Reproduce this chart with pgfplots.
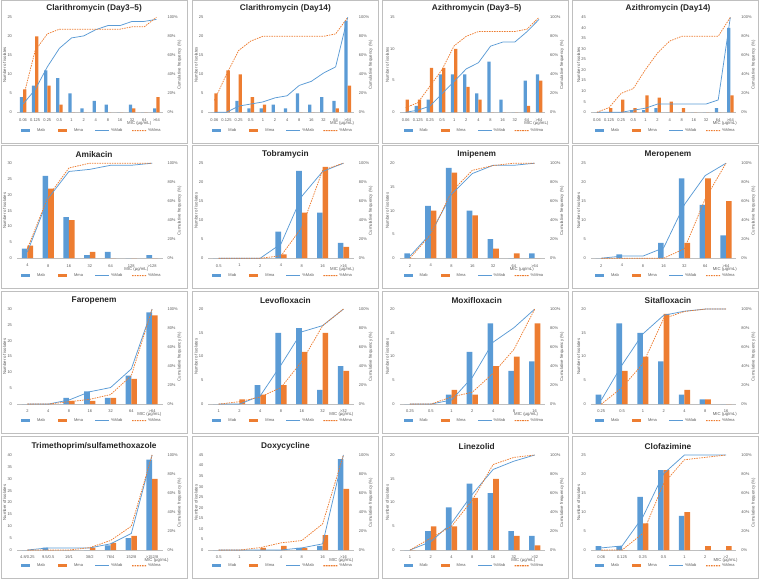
\documentclass[border=0pt]{standalone}
\usepackage{pgfplots}
\pgfplotsset{compat=1.18}
\usepackage{pgfplotstable}
\usepackage{fontspec}
\setmainfont{Liberation Sans}
\definecolor{blueC}{RGB}{91,155,213}
\definecolor{orangeC}{RGB}{237,125,49}
\definecolor{txt}{RGB}{89,89,89}

% x = category index; mab, mma = number of isolates; cmab, cmma = cumulative frequency (%)
\pgfplotstableread{
x mab mma cmab cmma
0 4 6 8.7 15.0
1 7 20 23.9 65.0
2 11 7 47.8 82.5
3 9 2 67.4 87.5
4 5 0 78.3 87.5
5 1 0 80.4 87.5
6 3 0 87.0 87.5
7 2 0 91.3 87.5
8 0 0 91.3 87.5
9 2 1 95.7 90.0
10 0 0 95.7 90.0
11 1 4 97.8 100
}\tClaA
\pgfplotstableread{
x mab mma cmab cmma
0 0 5 0 12.5
1 0 11 0 40.0
2 3 10 6.5 65.0
3 1 4 8.7 75.0
4 1 2 10.9 80.0
5 2 0 15.2 80.0
6 1 0 17.4 80.0
7 5 0 28.3 80.0
8 2 0 32.6 80.0
9 4 0 41.3 80.0
10 3 1 47.8 82.5
11 24 7 100 100
}\tClaB
\pgfplotstableread{
x mab mma cmab cmma
0 0 2 0 5.0
1 1 2 2.2 10.0
2 2 7 6.5 27.5
3 6 7 19.6 45.0
4 6 10 32.6 70.0
5 6 4 45.7 80.0
6 3 2 52.2 85.0
7 8 0 69.6 85.0
8 2 0 73.9 85.0
9 0 0 73.9 85.0
10 5 1 84.8 87.5
11 6 5 97.8 100
}\tAziA
\pgfplotstableread{
x mab mma cmab cmma
0 0 0 0 0
1 0 2 0 5.0
2 0 6 0 20.0
3 1 2 2.2 25.0
4 1 8 4.3 45.0
5 2 7 8.7 62.5
6 0 5 8.7 75.0
7 0 2 8.7 80.0
8 0 0 8.7 80.0
9 0 0 8.7 80.0
10 2 0 13.0 80.0
11 40 8 100 100
}\tAziB
\pgfplotstableread{
x mab mma cmab cmma
0 3 4 6.5 10.0
1 26 22 63.0 65.0
2 13 12 91.3 95.0
3 1 2 93.5 100
4 2 0 97.8 100
5 0 0 97.8 100
6 1 0 100 100
}\tAmi
\pgfplotstableread{
x mab mma cmab cmma
0 0 0 0 0
1 0 0 0 0
2 0 0 0 0
3 7 1 15.2 2.5
4 23 12 65.2 32.5
5 12 24 91.3 92.5
6 4 3 100 100
}\tTob
\pgfplotstableread{
x mab mma cmab cmma
0 1 0 2.2 0
1 11 10 26.1 25.0
2 19 18 67.4 70.0
3 10 9 89.1 92.5
4 4 2 97.8 97.5
5 0 1 97.8 100
6 1 0 100 100
}\tImi
\pgfplotstableread{
x mab mma cmab cmma
0 0 0 0 0
1 1 0 2.2 0
2 0 0 2.2 0
3 4 0 10.9 0
4 21 4 56.5 10.0
5 14 21 87.0 62.5
6 6 15 100 100
}\tMer
\pgfplotstableread{
x mab mma cmab cmma
0 0 0 0 0
1 0 0 0 0
2 2 1 4.3 2.5
3 4 1 13.0 5.0
4 2 2 17.4 10.0
5 9 8 37.0 30.0
6 29 28 100 100
}\tFar
\pgfplotstableread{
x mab mma cmab cmma
0 0 0 0 0
1 0 1 0 2.5
2 4 2 8.7 7.5
3 15 4 41.3 17.5
4 16 11 76.1 45.0
5 3 15 82.6 82.5
6 8 7 100 100
}\tLev
\pgfplotstableread{
x mab mma cmab cmma
0 0 0 0 0
1 0 0 0 0
2 2 3 4.3 7.5
3 11 2 28.3 12.5
4 17 8 65.2 32.5
5 7 10 80.4 57.5
6 9 17 100 100
}\tMox
\pgfplotstableread{
x mab mma cmab cmma
0 2 0 4.3 0
1 17 7 41.3 17.5
2 15 10 73.9 42.5
3 9 19 93.5 90.0
4 2 3 97.8 97.5
5 1 1 100 100
6 0 0 100 100
}\tSit
\pgfplotstableread{
x mab mma cmab cmma
0 0 0 0 0
1 1 0 2.2 0
2 0 0 2.2 0
3 0 1 2.2 2.5
4 2 3 6.5 10.0
5 5 6 17.4 25.0
6 38 30 100 100
}\tTmp
\pgfplotstableread{
x mab mma cmab cmma
0 0 0 0 0
1 0 0 0 0
2 0 1 0 2.5
3 0 2 0 7.5
4 1 1 2.2 10.0
5 2 7 6.5 27.5
6 43 29 100 100
}\tDox
\pgfplotstableread{
x mab mma cmab cmma
0 0 0 0 0
1 4 5 8.7 12.5
2 9 5 28.3 25.0
3 14 11 58.7 52.5
4 12 15 84.8 90.0
5 4 3 93.5 97.5
6 3 1 100 100
}\tLin
\pgfplotstableread{
x mab mma cmab cmma
0 1 0 2.2 0
1 1 0 4.3 0
2 14 7 34.8 17.5
3 21 21 80.4 70.0
4 9 10 100 95.0
5 0 1 100 97.5
6 0 1 100 100
}\tClo

\pgfplotsset{
  common/.style={scale only axis, width=145.5pt, height=95pt, anchor=south west,
    xmin=-0.5, ymin=0, major tick length=0pt, clip=false,
    cycle list={{blueC},{orangeC},{blueC},{orangeC}},
    tick label style={font=\fontsize{4}{4.5}\selectfont, text=txt},
    /pgf/number format/assume math mode=true,
    label style={font=\fontsize{4.3}{5}\selectfont, text=txt},
  },
  leftax/.style={common, axis x line*=bottom, axis y line*=left,
    y axis line style={draw=none}, x axis line style={draw=black!25, line width=0.5pt},
    ytick distance=5,
    ylabel={Number of isolates},
    ylabel style={at={(axis description cs:-0.0845,0.5)}, anchor=center},
    xlabel={MIC (μg/mL)},
    xticklabel style={yshift=-2.5pt}, yticklabel style={xshift=-1.5pt},
    title style={font=\bfseries\fontsize{8.3}{9.6}\selectfont, text=black!85,
      at={(axis description cs:0.53,1)}, anchor=center, yshift=2.5pt},
    legend columns=4,
    legend style={draw=none, fill=none, inner sep=0pt, column sep=0pt,
      at={(axis description cs:0.027,0)}, anchor=west,
      font=\fontsize{4}{4.5}\selectfont},
  },
  rightax/.style={common, axis x line=none, axis y line*=right,
    y axis line style={draw=none}, ymax=100, ytick={0,20,...,100},
    yticklabel={\pgfmathprintnumber{\tick}\%}, yticklabel style={xshift=1.5pt},
    ylabel={Cumulative frequency (\%)},
    ylabel style={at={(axis description cs:1.117,0.5)}, anchor=center},
  },
}

% #1 col, #2 row, #3 title, #4 ymax, #5 tick labels, #6 last index, #7 table, #8 xlabel pos
\newcommand{\panel}[8]{%
  \pgfmathsetmacro\ax{17+191.3*#1}%
  \pgfmathsetmacro\ay{581-17.3-145.9*#2-95}%
  \pgfmathsetmacro\bx{1.5+190.3*#1}%
  \pgfmathsetmacro\by{581-0.5-145.2*#2-142.5}%
  \pgfmathsetmacro\legoff{18.4-0.9*#2}%
  \pgfmathsetmacro\xm{#6+0.5}%
  \draw[black!25, line width=0.6pt] (\bx pt,\by pt) rectangle ++(186pt,142.5pt);
  \begin{axis}[leftax, at={(\ax pt,\ay pt)}, xmax=\xm, ymax=#4,
      xtick={0,...,#6}, xticklabels={#5}, title={#3},
      xlabel style={at={(axis description cs:#8,0)}, anchor=north, inner sep=0pt, yshift=-8.5pt},
      legend style={yshift=-\legoff pt}]
    \addplot[ybar, bar width=0.27, bar shift=-0.135, fill=blueC, draw=none, forget plot] table[x=x,y=mab]{#7};
    \addplot[ybar, bar width=0.27, bar shift=0.135, fill=orangeC, draw=none, forget plot] table[x=x,y=mma]{#7};
    \addlegendimage{blueC, fill=blueC, draw=none, mark=none, legend image code/.code={\fill[fill=blueC] (0pt,-1.6pt) rectangle (9pt,1.6pt); \path (14pt,0pt);}}
    \addlegendentry{\makebox[19pt][l]{\textcolor{txt}{Mab}}}
    \addlegendimage{orangeC, fill=orangeC, draw=none, mark=none, legend image code/.code={\fill[fill=orangeC] (0pt,-1.6pt) rectangle (9pt,1.6pt); \path (14pt,0pt);}}
    \addlegendentry{\makebox[19pt][l]{\textcolor{txt}{Mma}}}
    \addlegendimage{blueC, fill=blueC, draw=none, mark=none, legend image code/.code={\fill[fill=blueC] (0pt,-0.55pt) rectangle (14pt,0.55pt);}}
    \addlegendentry{\makebox[19pt][l]{\textcolor{txt}{\%Mab}}}
    \addlegendimage{orangeC, fill=orangeC, draw=none, mark=none, legend image code/.code={\fill[fill=orangeC] (0pt,-0.55pt) rectangle (1.6pt,0.55pt) (2.5pt,-0.55pt) rectangle (4.1pt,0.55pt) (5pt,-0.55pt) rectangle (6.6pt,0.55pt) (7.5pt,-0.55pt) rectangle (9.1pt,0.55pt) (10pt,-0.55pt) rectangle (11.6pt,0.55pt) (12.5pt,-0.55pt) rectangle (14pt,0.55pt);}}
    \addlegendentry{\makebox[19pt][l]{\textcolor{txt}{\%Mma}}}
  \end{axis}
  \begin{axis}[rightax, at={(\ax pt,\ay pt)}, xmax=\xm]
    \addplot[blueC, line width=0.75pt] table[x=x,y=cmab]{#7};
    \addplot[orangeC, line width=0.75pt, dash pattern=on 1.5pt off 1pt] table[x=x,y=cmma]{#7};
  \end{axis}
}

\begin{document}
\begin{tikzpicture}
\useasboundingbox (0pt,0pt) rectangle (760pt,581pt);
\panel{0}{0}{Clarithromycin (Day3–5)}{25}{0.06,0.125,0.25,0.5,1,2,4,8,16,32,64,>64}{11}{\tClaA}{0.84}
\panel{1}{0}{Clarithromycin (Day14)}{25}{0.06,0.125,0.25,0.5,1,2,4,8,16,32,64,>64}{11}{\tClaB}{0.92}
\panel{2}{0}{Azithromycin (Day3–5)}{15}{0.06,0.125,0.25,0.5,1,2,4,8,16,32,64,>64}{11}{\tAziA}{0.94}
\panel{3}{0}{Azithromycin (Day14)}{45}{0.06,0.125,0.25,0.5,1,2,4,8,16,32,64,>64}{11}{\tAziB}{0.92}
\panel{0}{1}{Amikacin}{30}{4,8,16,32,64,128,>128}{6}{\tAmi}{0.82}
\panel{1}{1}{Tobramycin}{25}{0.5,1,2,4,8,16,>16}{6}{\tTob}{0.92}
\panel{2}{1}{Imipenem}{20}{2,4,8,16,32,64,>64}{6}{\tImi}{0.84}
\panel{3}{1}{Meropenem}{25}{2,4,8,16,32,64,>64}{6}{\tMer}{0.92}
\panel{0}{2}{Faropenem}{30}{2,4,8,16,32,64,>64}{6}{\tFar}{0.91}
\panel{1}{2}{Levofloxacin}{20}{1,2,4,8,16,32,>32}{6}{\tLev}{0.915}
\panel{2}{2}{Moxifloxacin}{20}{0.25,0.5,1,2,4,8,16}{6}{\tMox}{0.87}
\panel{3}{2}{Sitafloxacin}{20}{0.25,0.5,1,2,4,8,16}{6}{\tSit}{0.92}
\panel{0}{3}{Trimethoprim/sulfamethoxazole}{40}{4.8/0.25,9.5/0.5,19/1,38/2,76/4,152/8,>152/8}{6}{\tTmp}{0.96}
\panel{1}{3}{Doxycycline}{45}{0.5,1,2,4,8,16,>16}{6}{\tDox}{0.915}
\panel{2}{3}{Linezolid}{20}{1,2,4,8,16,32,>32}{6}{\tLin}{0.85}
\panel{3}{3}{Clofazimine}{25}{0.06,0.125,0.25,0.5,1,2,>2}{6}{\tClo}{0.925}
\end{tikzpicture}
\end{document}
